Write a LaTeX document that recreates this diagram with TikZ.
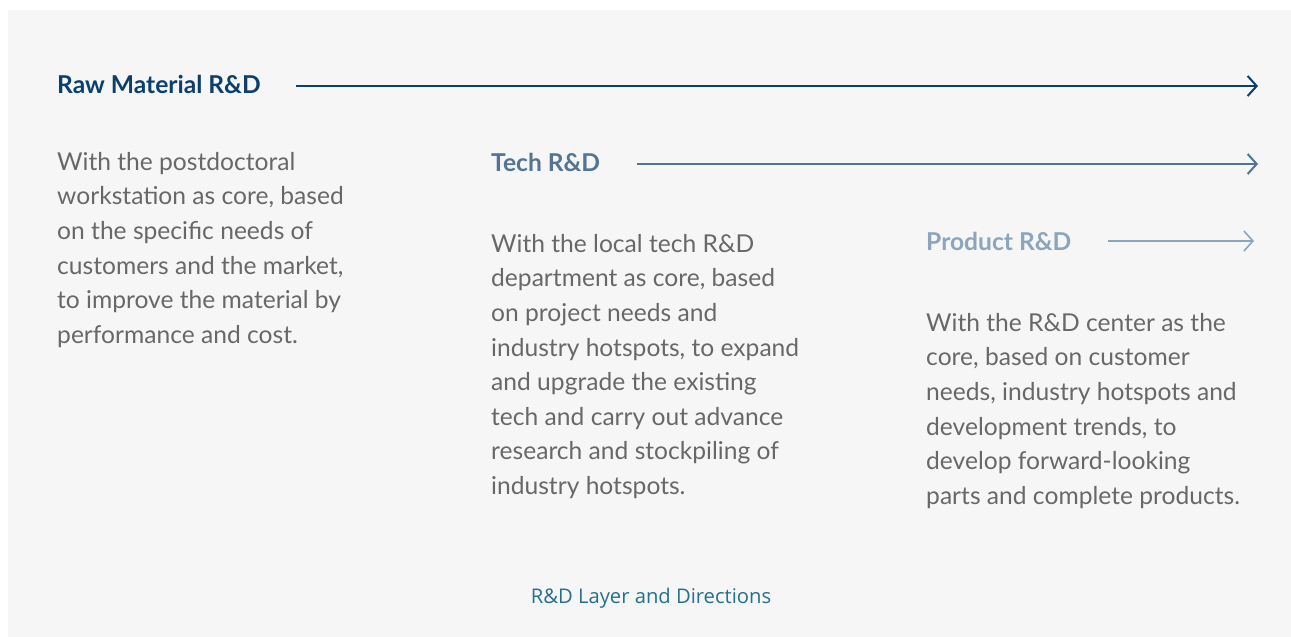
\documentclass[tikz,border=0pt]{standalone}
\usepackage{fontspec}
\setmainfont{Lato}
\newfontfamily\capfont{Open Sans}
\usetikzlibrary{arrows.meta}
\definecolor{panelbg}{HTML}{F6F6F6}
\definecolor{rawblue}{HTML}{0B3F6E}
\definecolor{techblue}{HTML}{527596}
\definecolor{prodblue}{HTML}{8CA5BA}
\definecolor{bodygray}{HTML}{686868}
\definecolor{capteal}{HTML}{24708E}
\tikzset{
  layer/.style={anchor=base west,inner sep=0pt,font=\fontsize{24.6}{28}\selectfont\bfseries},
  desc/.style={anchor=north west,inner sep=0pt,align=left,text=bodygray,
    font=\fontsize{24.6}{34.6}\selectfont},
  flow/.style={-{Straight Barb[length=9pt,width=20pt]},line width=2pt},
}
\begin{document}
\begin{tikzpicture}[x=1pt,y=-1pt]
  \useasboundingbox (0,0) rectangle (1291,637);
  \fill[panelbg] (8,10) rectangle (1291,637);
  % layer titles
  \node[layer,text=rawblue] (raw) at (57,93) {Raw Material R\&D};
  \node[layer,text=techblue] (tech) at (491,171) {Tech R\&D};
  \node[layer,text=prodblue] (prod) at (926,250) {Product R\&D};
  \coordinate (rawend) at (1258,86);
  \coordinate (techend) at (1258,164);
  \coordinate (prodend) at (1254,241);
  \draw[flow,rawblue] ([xshift=35pt]raw.east |- rawend) -- (rawend);
  \draw[flow,techblue] ([xshift=37pt]tech.east |- techend) -- (techend);
  \draw[flow,prodblue,line width=1.6pt] ([xshift=36pt]prod.east |- prodend) -- (prodend);
  % descriptions
  \node[desc] (rawtxt) at (57,152) {With the postdoctoral\\workstation as core, based\\on the specific needs of\\customers and the market,\\to improve the material by\\performance and cost.};
  \node[desc] (techtxt) at (491,234) {With the local tech R\&D\\department as core, based\\on project needs and\\industry hotspots, to expand\\and upgrade the existing\\tech and carry out advance\\research and stockpiling of\\industry hotspots.};
  \node[desc] (prodtxt) at (926,313) {With the R\&D center as the\\core, based on customer\\needs, industry hotspots and\\development trends, to\\develop forward-looking\\parts and complete products.};
  % caption
  \node[text=capteal,font=\capfont\fontsize{20.2}{23}\selectfont] (caption) at (651,598) {R\&D Layer and Directions};
\end{tikzpicture}
\end{document}
